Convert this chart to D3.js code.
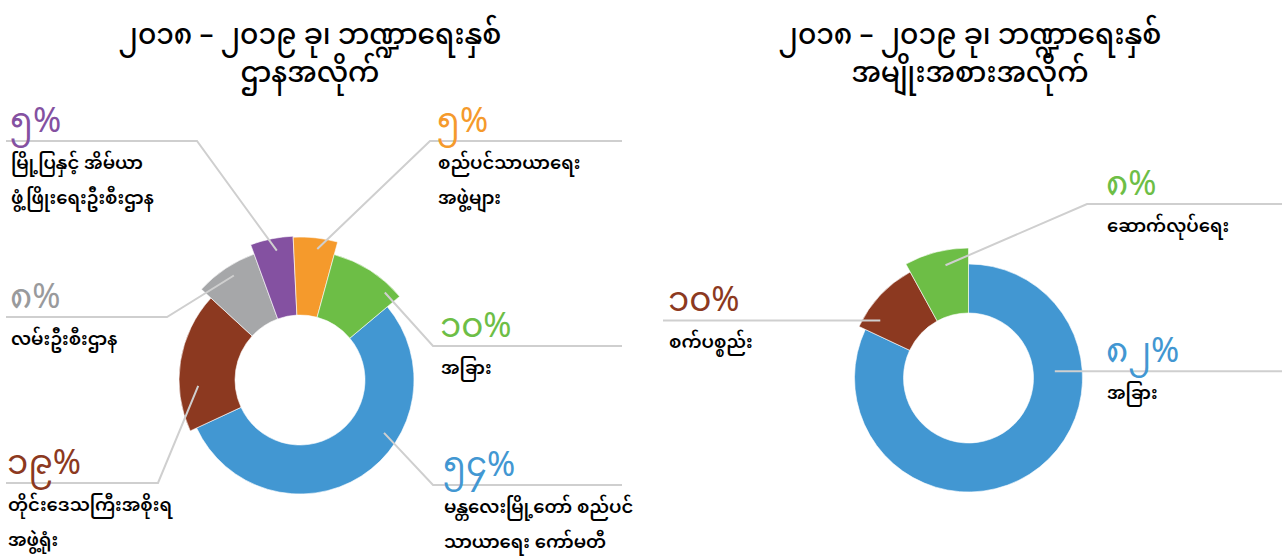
<!DOCTYPE html>
<html><head><meta charset="utf-8">
<script src="https://cdn.jsdelivr.net/npm/d3@7"></script>
<style>
body{margin:0;background:#fff;}
svg{display:block;}
text{font-family:"Noto Sans Myanmar","Padauk","Myanmar Text","Noto Sans",sans-serif;}
</style>
</head><body>
<svg id="chart" width="1282" height="558"></svg>
<script>
// ---- data ----
const leftTitle = ["၂၀၁၈ – ၂၀၁၉ ခု၊ ဘဏ္ဍာရေးနှစ်", "ဌာနအလိုက်"];
const leftCategories = [
  ["မန္တလေးမြို့တော် စည်ပင်", "သာယာရေး ကော်မတီ"],
  ["တိုင်းဒေသကြီးအစိုးရ", "အဖွဲ့ရုံး"],
  ["လမ်းဦးစီးဌာန"],
  ["မြို့ပြနှင့် အိမ်ယာ", "ဖွံ့ဖြိုးရေးဦးစီးဌာန"],
  ["စည်ပင်သာယာရေး", "အဖွဲ့များ"],
  ["အခြား"]
];
const leftValues = [54.2, 18.75, 7.6, 4.8, 5.0, 9.65];
const leftPctLabels = ["၅၄%", "၁၉%", "၈%", "၅%", "၅%", "၁၀%"];

const rightTitle = ["၂၀၁၈ – ၂၀၁၉ ခု၊ ဘဏ္ဍာရေးနှစ်", "အမျိုးအစားအလိုက်"];
const rightCategories = [["အခြား"], ["စက်ပစ္စည်း"], ["ဆောက်လုပ်ရေး"]];
const rightValues = [82, 10, 8];
const rightPctLabels = ["၈၂%", "၁၀%", "၈%"];

// ---- styles / layout ----
const leftColors = ["#4297d2", "#8c3920", "#a6a7a9", "#8451a1", "#f59a2c", "#6dbe46"];
const leftPctColors = ["#4297d2", "#8c3920", "#999a9c", "#8451a1", "#f59a2c", "#6dbe46"];
const leftOuter = [114, 121, 134, 144, 143, 130];
const rightColors = ["#4297d2", "#8c3920", "#6dbe46"];
const rightOuter = [114, 121, 130];
const innerR = 65;

// leader layout: anchor (fraction along slice, fraction across ring), elbow x, line y, end x, text x
const leftLayout = [
  {fa:0.37, fr:0.70, ex:433, ly:485, end:622, tx:443},
  {fa:0.32, fr:0.66, ex:158, ly:483, end:6,   tx:7},
  {fa:0.55, fr:0.85, ex:167, ly:317, end:6,   tx:10},
  {fa:0.57, fr:0.84, ex:197, ly:141, end:6,   tx:10},
  {fa:0.57, fr:0.86, ex:430, ly:141, end:622, tx:437},
  {fa:0.83, fr:0.875,ex:433, ly:346, end:622, tx:440}
];
const rightLayout = [
  {fa:0.29, fr:0.44, ex:null, ly:null, end:1282, tx:1106},
  {fa:0.22, fr:0.72, ex:null, ly:null, end:663,  tx:668},
  {fa:0.60, fr:0.77, ex:1087, ly:204, end:1282, tx:1106}
];

const svg = d3.select("#chart");

function drawDonut(cfg) {
  const g = svg.append("g").attr("transform", `translate(${cfg.cx},${cfg.cy})`);
  const pie = d3.pie().sort(null).value(d => d)
    .startAngle(cfg.start * Math.PI / 180)
    .endAngle((cfg.start + 360) * Math.PI / 180);
  const arcs = pie(cfg.values);
  const color = d3.scaleOrdinal().domain(d3.range(cfg.values.length)).range(cfg.colors);
  const outer = d3.scaleOrdinal().domain(d3.range(cfg.values.length)).range(cfg.outer);
  const arc = d3.arc().innerRadius(innerR).outerRadius(d => outer(d.index));
  g.selectAll("path.slice").data(arcs).join("path")
    .attr("class", "slice")
    .attr("d", d => arc(d))
    .attr("fill", d => color(d.index))
    .attr("stroke", "#fff").attr("stroke-width", 0.6);

  arcs.forEach((d, i) => {
    const L = cfg.layout[i];
    const a = d.startAngle + L.fa * (d.endAngle - d.startAngle);
    const r = innerR + L.fr * (outer(i) - innerR);
    const ax = cfg.cx + r * Math.sin(a), ay = cfg.cy - r * Math.cos(a);
    const ly = L.ly == null ? ay : L.ly;
    const pts = L.ex == null ? [[ax, ay], [L.end, ly]] : [[ax, ay], [L.ex, ly], [L.end, ly]];
    svg.append("path")
      .attr("d", d3.line()(pts))
      .attr("fill", "none").attr("stroke", "#cfcfcf").attr("stroke-width", 2);
    svg.append("text")
      .attr("x", L.tx).attr("y", ly - 9)
      .attr("font-size", 34).attr("fill", cfg.pctColors[i])
      .text(cfg.pct[i]);
    cfg.cats[i].forEach((line, k) => {
      svg.append("text")
        .attr("x", L.tx + 1).attr("y", ly + 28 + k * 35)
        .attr("font-size", 18).attr("font-weight", 600).attr("fill", "#000")
        .text(line);
    });
  });

  cfg.title.forEach((t, k) => {
    svg.append("text")
      .attr("x", cfg.tx).attr("y", 44 + k * 38)
      .attr("text-anchor", "middle")
      .attr("font-size", 28).attr("font-weight", 500).attr("fill", "#000")
      .text(t);
  });
}

drawDonut({cx:300, cy:380, start:50, values:leftValues, colors:leftColors, pctColors:leftPctColors,
  outer:leftOuter, layout:leftLayout, pct:leftPctLabels, cats:leftCategories, title:leftTitle, tx:310});
drawDonut({cx:968.5, cy:378, start:0, values:rightValues, colors:rightColors, pctColors:rightColors,
  outer:rightOuter, layout:rightLayout, pct:rightPctLabels, cats:rightCategories, title:rightTitle, tx:970});
</script>
</body></html>
